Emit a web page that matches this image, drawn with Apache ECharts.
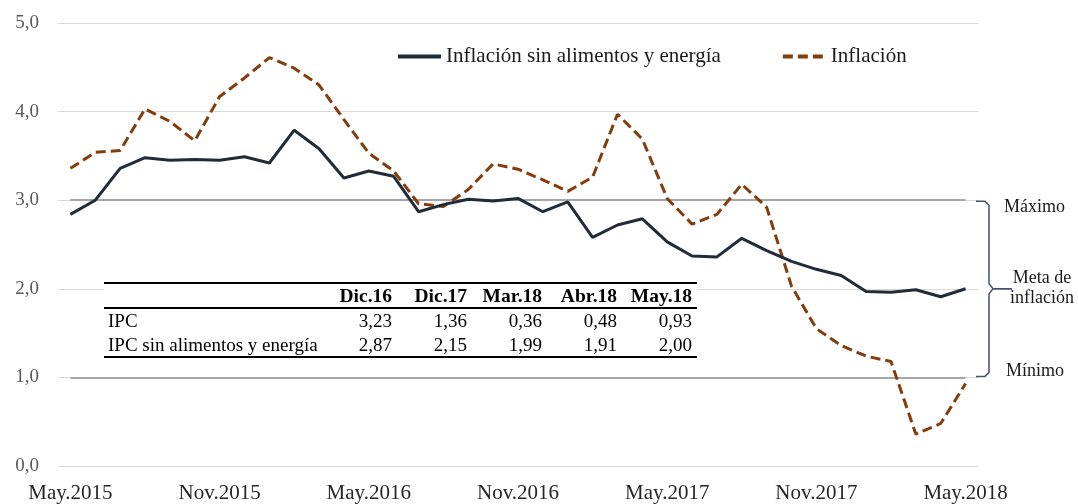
<!DOCTYPE html>
<html><head><meta charset="utf-8">
<script src="https://cdn.jsdelivr.net/npm/echarts@6/dist/echarts.min.js"></script>
<style>html,body{margin:0;padding:0;background:#fff}#c{width:1078px;height:504px}</style>
</head><body><div id="c"></div>
<script>
const months = ['May.2015','Jun.2015','Jul.2015','Ago.2015','Sep.2015','Oct.2015','Nov.2015','Dic.2015',
  'Ene.2016','Feb.2016','Mar.2016','Abr.2016','May.2016','Jun.2016','Jul.2016','Ago.2016','Sep.2016','Oct.2016','Nov.2016','Dic.2016',
  'Ene.2017','Feb.2017','Mar.2017','Abr.2017','May.2017','Jun.2017','Jul.2017','Ago.2017','Sep.2017','Oct.2017','Nov.2017','Dic.2017',
  'Ene.2018','Feb.2018','Mar.2018','Abr.2018','May.2018'];
const coreInflation = [2.84,3.00,3.36,3.48,3.45,3.46,3.45,3.49,
  3.42,3.79,3.58,3.25,3.33,3.27,2.87,2.95,3.01,2.99,3.02,2.87,
  2.98,2.58,2.72,2.79,2.53,2.37,2.36,2.57,2.43,2.31,2.22,2.15,
  1.97,1.96,1.99,1.91,2.00];
const inflation = [3.36,3.54,3.56,4.03,3.89,3.67,4.17,4.38,
  4.61,4.49,4.30,3.91,3.53,3.33,2.96,2.93,3.12,3.41,3.35,3.23,
  3.10,3.26,3.97,3.69,3.02,2.73,2.84,3.18,2.92,2.03,1.55,1.36,
  1.24,1.18,0.36,0.48,0.93];
const seriesNames = ['Inflación sin alimentos y energía','Inflación'];
const targetMax = 3, targetMid = 2, targetMin = 1;
const targetLabels = ['Máximo','Meta de\ninflación','Mínimo'];
const yTicks = [0,1,2,3,4,5];
const tableHeaders = ['Dic.16','Dic.17','Mar.18','Abr.18','May.18'];
const tableRowNames = ['IPC','IPC sin alimentos y energía'];
const tableIPC = ['3,23','1,36','0,36','0,48','0,93'];
const tableCore = ['2,87','2,15','1,99','1,91','2,00'];

const FONT = 'Liberation Serif';
const chart = echarts.init(document.getElementById('c'), null, {renderer:'canvas'});
chart.setOption({
  animation:false,
  backgroundColor:'#fff',
  textStyle:{fontFamily:FONT},
  grid:{left:58,right:100,top:23,bottom:36},
  legend:{
    top:46,left:396,padding:0,itemWidth:43,itemHeight:14,itemGap:60,
    itemStyle:{opacity:0},
    lineStyle:{width:4},
    textStyle:{fontFamily:FONT,fontSize:21,color:'#1a1a1a'},
    data:seriesNames
  },
  xAxis:{
    type:'category',data:months,boundaryGap:true,
    axisLine:{show:false},axisTick:{show:false},
    axisLabel:{interval:5,fontFamily:FONT,fontSize:21,color:'#262626',margin:17}
  },
  yAxis:{
    type:'value',min:yTicks[0],max:yTicks[yTicks.length-1],interval:1,
    axisLine:{show:false},axisTick:{show:false},
    splitLine:{lineStyle:{color:'#d9d9d9',width:1}},
    axisLabel:{fontFamily:FONT,fontSize:19,color:'#595959',margin:19,
      formatter:v=>v.toFixed(1).replace('.',',')}
  },
  series:[
    {name:seriesNames[0],type:'line',data:coreInflation,showSymbol:false,symbol:'none',z:4,
     lineStyle:{color:'#222b38',width:3},itemStyle:{color:'#222b38'},
     markLine:{silent:true,symbol:'none',label:{show:false},z:2,
       lineStyle:{color:'#a6a6a6',width:2,type:'solid'},
       data:[[{coord:[months[0],targetMax]},{coord:[months[months.length-1],targetMax]}],
             [{coord:[months[0],targetMin]},{coord:[months[months.length-1],targetMin]}]]}},
    {name:seriesNames[1],type:'line',data:inflation,showSymbol:false,symbol:'none',z:3,
     lineStyle:{color:'#843c0c',width:3,type:[10,5]},itemStyle:{color:'#843c0c'}}
  ]
});

function drawExtras(){
  const y3 = chart.convertToPixel({yAxisIndex:0},targetMax);
  const y2 = chart.convertToPixel({yAxisIndex:0},targetMid);
  const y1 = chart.convertToPixel({yAxisIndex:0},targetMin);
  const g = [];
  const bc = '#44546a';
  const F = '18px "'+FONT+'"';
  const TF = '19px "'+FONT+'"';
  g.push({type:'polyline',z:10,shape:{points:[[976,y3+1],[985,y3+1],[989,y3+5],[989,y2-5],[993,y2],[1012,y2]]},style:{stroke:bc,lineWidth:1.5,fill:null}});
  g.push({type:'polyline',z:10,shape:{points:[[1012,y2],[993,y2],[989,y2+5],[989,y1-5],[985,y1-1],[976,y1-1]]},style:{stroke:bc,lineWidth:1.5,fill:null}});
  g.push({type:'text',z:10,x:1004,y:y3+7,style:{text:targetLabels[0],font:F,fill:'#1a1a1a',textVerticalAlign:'middle'}});
  g.push({type:'text',z:10,x:1042,y:y2-21,style:{text:targetLabels[1],font:F,fill:'#1a1a1a',textAlign:'center',lineHeight:20}});
  g.push({type:'text',z:10,x:1006,y:y1-6,style:{text:targetLabels[2],font:F,fill:'#1a1a1a',textVerticalAlign:'middle'}});
  // table
  const tL=104, tR=697, tTop=283, tSep=308, tBot=357;
  g.push({type:'rect',z:8,shape:{x:tL,y:tTop,width:tR-tL,height:tBot-tTop},style:{fill:'#fff'}});
  [tTop,tSep,tBot].forEach(yy=>g.push({type:'line',z:9,shape:{x1:tL,y1:yy,x2:tR,y2:yy},style:{stroke:'#000',lineWidth:2}}));
  const colRight = [392,467,542,617,692];
  const rows=[tableIPC,tableCore];
  const rowY=[322,346];
  tableHeaders.forEach((h,i)=>g.push({type:'text',z:10,x:colRight[i],y:297,style:{text:h,font:'bold 19.5px "'+FONT+'"',fill:'#000',textAlign:'right',textVerticalAlign:'middle'}}));
  tableRowNames.forEach((n,r)=>{
    g.push({type:'text',z:10,x:108,y:rowY[r],style:{text:n,font:TF,fill:'#000',textVerticalAlign:'middle'}});
    rows[r].forEach((v,i)=>g.push({type:'text',z:10,x:colRight[i],y:rowY[r],style:{text:v,font:TF,fill:'#000',textAlign:'right',textVerticalAlign:'middle'}}));
  });
  chart.setOption({graphic:g});
}
drawExtras();
</script></body></html>
